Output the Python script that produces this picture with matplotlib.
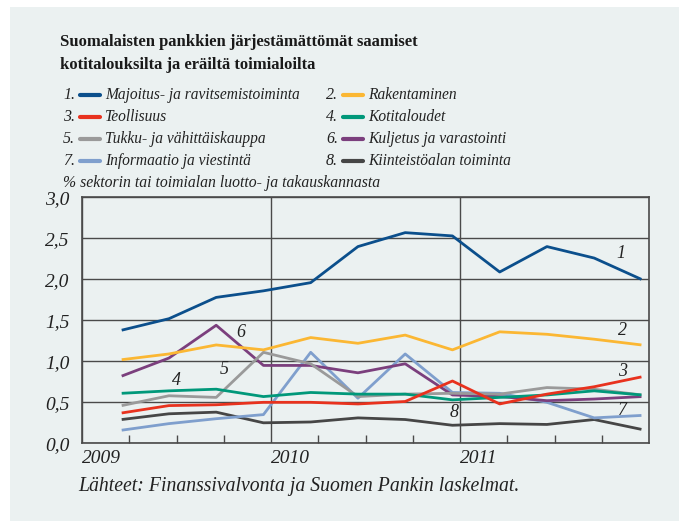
"""Non-performing loans of Finnish banks by sector, 2009-2011."""

import matplotlib

matplotlib.use("Agg")
import matplotlib.pyplot as plt
from matplotlib.patches import Rectangle
import numpy as np

BG = "#ebf1f1"
GRID = "#4a4a4a"

# quarterly observations, first one in Q1/2009
x_start = 2009.21
quarters = 12

majoitus = [1.38, 1.52, 1.78, 1.86, 1.96, 2.40, 2.57, 2.53, 2.09, 2.40, 2.26, 2.00]
rakentaminen = [1.02, 1.09, 1.20, 1.14, 1.29, 1.22, 1.32, 1.14, 1.36, 1.33, 1.27, 1.20]
teollisuus = [0.37, 0.46, 0.47, 0.50, 0.50, 0.48, 0.51, 0.76, 0.48, 0.60, 0.69, 0.81]
kotitaloudet = [0.61, 0.64, 0.66, 0.57, 0.62, 0.60, 0.60, 0.53, 0.56, 0.59, 0.64, 0.59]
tukku = [0.46, 0.58, 0.56, 1.11, 0.97, 0.57, 0.60, 0.61, 0.60, 0.68, 0.66, 0.59]
kuljetus = [0.82, 1.04, 1.44, 0.95, 0.95, 0.86, 0.97, 0.59, 0.57, 0.52, 0.54, 0.57]
informaatio = [0.16, 0.24, 0.30, 0.35, 1.11, 0.55, 1.09, 0.62, 0.61, 0.50, 0.31, 0.34]
kiinteisto = [0.29, 0.36, 0.38, 0.25, 0.26, 0.31, 0.29, 0.22, 0.24, 0.23, 0.29, 0.17]

series = [
    ("1.", "Majoitus- ja ravitsemistoiminta", majoitus, "#0b4f8c"),
    ("2.", "Rakentaminen", rakentaminen, "#fbb733"),
    ("3.", "Teollisuus", teollisuus, "#e8321e"),
    ("4.", "Kotitaloudet", kotitaloudet, "#00987a"),
    ("5.", "Tukku- ja vähittäiskauppa", tukku, "#9a9a9a"),
    ("6.", "Kuljetus ja varastointi", kuljetus, "#7b3f7d"),
    ("7.", "Informaatio ja viestintä", informaatio, "#7f9fcd"),
    ("8.", "Kiinteistöalan toiminta", kiinteisto, "#464646"),
]
# (number, x, y) of the in-chart labels
line_labels = [
    ("1", 2011.85, 2.32), ("2", 2011.86, 1.38), ("3", 2011.86, 0.88),
    ("4", 2009.50, 0.77), ("5", 2009.75, 0.90), ("6", 2009.84, 1.35),
    ("7", 2011.86, 0.40), ("8", 2010.97, 0.37),
]
year_ticks = [2009, 2010, 2011]

plt.rcParams.update({
    "font.family": "serif",
    "font.serif": ["Liberation Serif", "DejaVu Serif"],
})

fig = plt.figure(figsize=(6.79, 5.21), dpi=100)
fig.patch.set_facecolor("white")
fig.patches.append(Rectangle((10 / 679, 0), 1, 1 - 7 / 521, transform=fig.transFigure,
                             facecolor=BG, edgecolor="none", zorder=-10))

ax = fig.add_axes([82 / 679, (521 - 443.3) / 521, 567 / 679, 245.9 / 521])
ax.set_facecolor(BG)
x = x_start + 0.25 * np.arange(quarters)
for _, _, values, color in series[::-1]:
    ax.plot(x, values, color=color, lw=2.0, solid_capstyle="butt", zorder=3)

for num, lx, ly in line_labels:
    ax.text(lx, ly, num, fontsize=13, style="italic", color="#222222", ha="center", va="center", zorder=4)

ax.set_xlim(2009, 2012)
ax.set_ylim(0, 3.0)
ax.set_yticks(np.arange(0, 3.01, 0.5))
ax.set_yticklabels([f"{v:.1f}".replace(".", ",") for v in np.arange(0, 3.01, 0.5)],
                   fontsize=14, style="italic", color="#222222")
ax.set_xticks(year_ticks)
ax.set_xticklabels([str(y) for y in year_ticks], fontsize=14, style="italic", color="#222222", ha="left")
ax.set_xticks(np.arange(2009.25, 2012, 0.25), minor=True)
ax.tick_params(axis="y", which="major", length=0, pad=9)
ax.tick_params(axis="x", which="major", length=0, pad=5)
ax.tick_params(axis="x", which="minor", direction="in", length=6, width=1.0, color=GRID)
ax.grid(True, which="major", color=GRID, lw=1.0, zorder=1)
for side in ax.spines.values():
    side.set_color(GRID)
    side.set_linewidth(1.2)

fig.text(60 / 679, 1 - 42 / 521, "Suomalaisten pankkien järjestämättömät saamiset",
         fontsize=12, fontweight="bold", va="center", color="#1a1a1a")
fig.text(60 / 679, 1 - 65 / 521, "kotitalouksilta ja eräiltä toimialoilta",
         fontsize=12, fontweight="bold", va="center", color="#1a1a1a")

rows_y = [95, 117, 139, 161]
for i, (num, name, _, color) in enumerate(series):
    col, row = i % 2, i // 2
    x0 = 63 if col == 0 else 326
    yy = 1 - rows_y[row] / 521
    fig.text(x0 / 679, yy, num, fontsize=11.5, style="italic", va="center", color="#222222")
    fig.lines.append(plt.Line2D([(x0 + 17) / 679, (x0 + 37) / 679], [yy, yy], transform=fig.transFigure,
                                color=color, lw=3.0, solid_capstyle="round"))
    fig.text((x0 + 42) / 679, yy, name, fontsize=11.2, style="italic", va="center", color="#222222")

fig.text(63 / 679, 1 - 183 / 521, "% sektorin tai toimialan luotto- ja takauskannasta",
         fontsize=11.3, style="italic", va="center", color="#222222")
fig.text(78 / 679, 1 - 486 / 521, "Lähteet: Finanssivalvonta ja Suomen Pankin laskelmat.",
         fontsize=14.2, style="italic", va="center", color="#222222")

fig.savefig("out.png", dpi=100)
